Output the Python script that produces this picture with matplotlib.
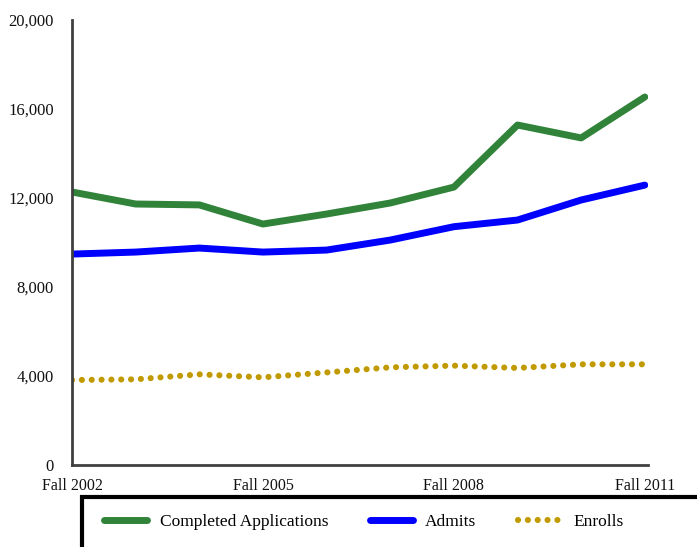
import matplotlib
matplotlib.use("Agg")
import matplotlib.pyplot as plt
from matplotlib.patches import Rectangle
from matplotlib.ticker import FuncFormatter

years = ["Fall 2002", "Fall 2003", "Fall 2004", "Fall 2005", "Fall 2006",
         "Fall 2007", "Fall 2008", "Fall 2009", "Fall 2010", "Fall 2011"]
applications = [12270, 11730, 11690, 10830, 11280, 11775, 12490, 15280, 14700, 16540]
admits = [9480, 9570, 9750, 9570, 9660, 10110, 10710, 11010, 11910, 12580]
enrolls = [3820, 3850, 4075, 3940, 4160, 4390, 4465, 4360, 4525, 4525]
tick_years = ["Fall 2002", "Fall 2005", "Fall 2008", "Fall 2011"]

plt.rcParams['font.family'] = ['Liberation Serif', 'DejaVu Serif']

fig = plt.figure(figsize=(6.97, 5.47), dpi=100)
ax = fig.add_axes([72/697, (547-465)/547, (648-72)/697, (465-20)/547])

x = list(range(len(years)))
ax.plot(x, applications, color="#31833A", lw=5, solid_capstyle='round', label="Completed Applications")
ax.plot(x, admits, color="#0000FF", lw=5, solid_capstyle='round', label="Admits")
ax.plot(x, enrolls, color="#C09A00", lw=4.4, linestyle=(0, (0.01, 1.6)), dash_capstyle='round', label="Enrolls")

ax.set_xlim(0, 9.05)
ax.set_ylim(0, 20000)
ax.set_yticks([0, 4000, 8000, 12000, 16000, 20000])
ax.yaxis.set_major_formatter(FuncFormatter(lambda v, p: f"{int(v):,}"))
ax.set_xticks([years.index(t) for t in tick_years])
ax.set_xticklabels(tick_years)
ax.tick_params(axis='both', length=0, labelsize=11.5, colors='#111111')
ax.tick_params(axis='y', labelsize=12, pad=13)
ax.tick_params(axis='x', pad=9)
for s in ['top', 'right']:
    ax.spines[s].set_visible(False)
for s in ['left', 'bottom']:
    ax.spines[s].set_color('#404040')
    ax.spines[s].set_linewidth(2)

rect = Rectangle((82/697, -0.2), 1.0, 0.2 + (547-497)/547, transform=fig.transFigure,
                 fill=False, edgecolor='black', lw=3, clip_on=False)
fig.patches.append(rect)

leg = fig.legend(loc='center left', bbox_to_anchor=(97/697, (547-522)/547), ncol=3,
                 frameon=False, fontsize=12.5, handlelength=2.5, handletextpad=0.7,
                 columnspacing=2.4, borderaxespad=0)

fig.savefig("out.png", dpi=100)
